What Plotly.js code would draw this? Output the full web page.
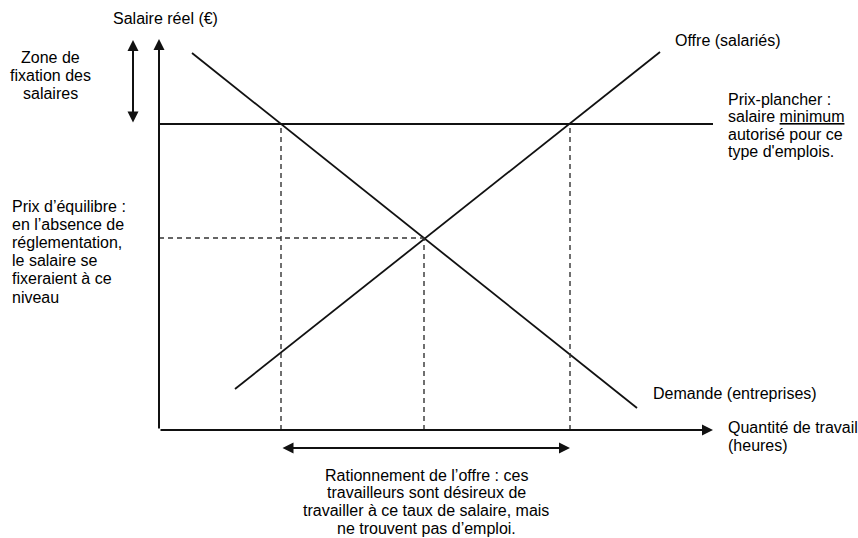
<!DOCTYPE html>
<html>
<head>
<meta charset="utf-8">
<script src="https://cdn.plot.ly/plotly-3.0.1.min.js"></script>
<style>html,body{margin:0;padding:0;background:#fff;}#chart{width:858px;height:538px;}</style>
</head>
<body>
<div id="chart"></div>
<script>
// Schematic labour-market diagram (units: arbitrary quantity / wage)
const demandQ = [3.3, 47.8];
const demandW = [37.7, 2.2];
const supplyQ = [7.6, 50.1];
const supplyW = [4.1, 37.8];
const floorWage = 30.6;          // prix-plancher (salaire minimum)
const equilibrium = [26.5, 19.2]; // [quantité, salaire]
const floorDemandQ = 12.2;       // demande au prix-plancher
const floorSupplyQ = 41.1;       // offre au prix-plancher
const xMax = 55.4;
const yMax = 39.1;

// text blocks (one entry per line)
const yAxisTitle = ['Salaire réel (€)'];
const zoneLines = ['Zone de', 'fixation des', 'salaires'];
const offreLines = ['Offre (salariés)'];
const plancherLines = ['Prix-plancher :', 'salaire <u>minimum</u>', 'autorisé pour ce', 'type d\'emplois.'];
const equilibreLines = ['Prix d’équilibre :', 'en l’absence de', 'réglementation,', 'le salaire se', 'fixeraient à ce', 'niveau'];
const demandeLines = ['Demande (entreprises)'];
const xAxisTitle = ['Quantité de travail', '(heures)'];
const rationnementLines = ['Rationnement de l’offre : ces', 'travailleurs sont désireux de', 'travailler à ce taux de salaire, mais', 'ne trouvent pas d’emploi.'];

const W = 858, H = 538;
const margin = {l: 159, r: 145, t: 39, b: 108, pad: 0};
const plotW = W - margin.l - margin.r;
const plotH = H - margin.t - margin.b;

const ink = '#111';
const dashInk = '#333';
const font = {family: 'Liberation Sans, Arial, sans-serif', size: 16, color: '#000'};

const dashed = {color: dashInk, width: 1.4, dash: '5px,4px'};
const traces = [
  {x: demandQ, y: demandW, mode: 'lines', line: {color: ink, width: 1.8}},
  {x: supplyQ, y: supplyW, mode: 'lines', line: {color: ink, width: 1.8}},
  {x: [0, xMax], y: [floorWage, floorWage], mode: 'lines', line: {color: ink, width: 2}},
  {x: [0, equilibrium[0]], y: [equilibrium[1], equilibrium[1]], mode: 'lines', line: dashed},
  {x: [equilibrium[0], equilibrium[0]], y: [0, equilibrium[1]], mode: 'lines', line: dashed},
  {x: [floorDemandQ, floorDemandQ], y: [0, floorWage], mode: 'lines', line: dashed},
  {x: [floorSupplyQ, floorSupplyQ], y: [0, floorWage], mode: 'lines', line: dashed}
];

// diagram units -> paper fractions (annotations may lie outside the axis range)
const ux = q => q / xMax;
const uy = w => w / yMax;
// figure pixels -> paper fractions (for text placement)
const fx = p => (p - margin.l) / plotW;
const fy = p => (H - margin.b - p) / plotH;

function arrow(x0, y0, x1, y1, both) {
  return {x: ux(x1), y: uy(y1), xref: 'paper', yref: 'paper',
    ax: (x0 - x1) * plotW / xMax, ay: -(y0 - y1) * plotH / yMax, axref: 'pixel', ayref: 'pixel',
    text: '', showarrow: true, arrowhead: 2, startarrowhead: 2, arrowsize: 1.1, startarrowsize: 1.1,
    arrowwidth: 2, arrowcolor: ink, arrowside: both ? 'end+start' : 'end', standoff: 0, startstandoff: 0};
}
function block(lines, xPix, firstY, spacing, xanchor) {
  return lines.map((t, i) => ({x: fx(xPix), y: fy(firstY + i * spacing), xref: 'paper', yref: 'paper',
    text: t, showarrow: false, xanchor: xanchor, yanchor: 'middle', align: xanchor,
    font: font, borderpad: 0, borderwidth: 0}));
}

const annotations = [
  arrow(0, 0, 0, yMax, false),
  arrow(0, 0, xMax, 0, false),
  arrow(-2.6, floorWage, -2.6, 39.0, true),
  arrow(floorDemandQ, -1.8, floorSupplyQ, -1.8, true),
  ...block(yAxisTitle, 165, 18, 0, 'center'),
  ...block(zoneLines, 50, 57, 18.3, 'center'),
  ...block(offreLines, 675, 41, 0, 'left'),
  ...block(plancherLines, 728, 99, 17.6, 'left'),
  ...block(equilibreLines, 12, 206, 18.2, 'left'),
  ...block(demandeLines, 653, 393, 0, 'left'),
  ...block(xAxisTitle, 728, 427, 18, 'left'),
  ...block(rationnementLines, 426, 475, 17.8, 'center')
];

const axisCommon = {showgrid: false, zeroline: false, showticklabels: false, showline: false, ticks: '', fixedrange: true};
const layout = {
  width: W, height: H, autosize: false,
  margin: margin,
  paper_bgcolor: '#fff', plot_bgcolor: '#fff',
  showlegend: false, hovermode: false,
  xaxis: Object.assign({range: [0, xMax]}, axisCommon),
  yaxis: Object.assign({range: [0, yMax]}, axisCommon),
  annotations: annotations
};

Plotly.newPlot('chart', traces, layout, {displayModeBar: false, staticPlot: true});
</script>
</body>
</html>
